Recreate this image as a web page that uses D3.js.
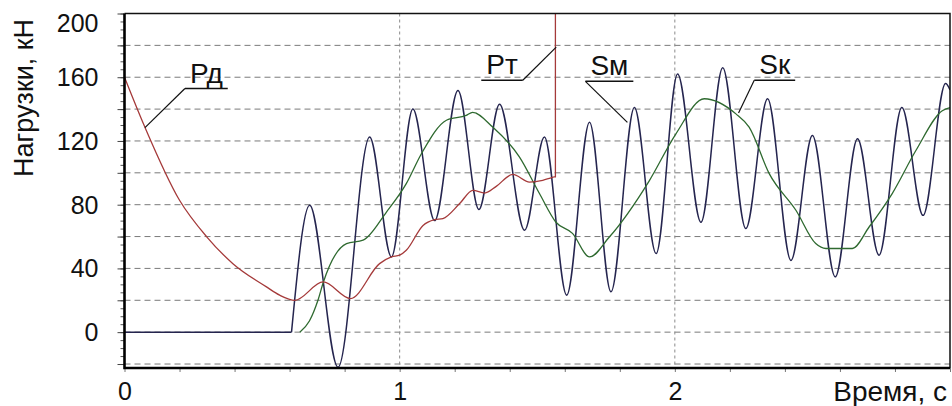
<!DOCTYPE html>
<html>
<head>
<meta charset="utf-8">
<script src="https://cdn.jsdelivr.net/npm/d3@7"></script>
<style>
body { margin: 0; background: #fff; }
svg { display: block; font-family: "Liberation Sans", Arial, sans-serif; }
</style>
</head>
<body>
<svg id="chart"></svg>
<script>
var size = {width: 952, height: 406}
var plot = {left: 124.5, right: 950, top: 13.5, bottom: 368}

// Рд / Рт (red), time in s, load in kN
var pTime = [0, 0.074, 0.2, 0.298, 0.394, 0.516, 0.564, 0.619, 0.722, 0.821, 0.927, 0.97, 1.0, 1.024, 1.085, 1.127, 1.157, 1.218, 1.266, 1.309, 1.351, 1.411, 1.472, 1.52, 1.56]
var pLoad = [160, 128.7, 82.8, 60, 43, 28.4, 23.2, 20, 31.5, 21.1, 43, 47.2, 48.3, 51.4, 67, 70.6, 71.3, 80.7, 89, 87.3, 91.5, 99, 94.2, 95.3, 97.4]
// vertical jump of Рт
var jumpTime = [1.566, 1.566]
var jumpLoad = [97.4, 230]

// Sм (navy)
var smTime = [0, 0.607, 0.673, 0.776, 0.891, 0.97, 1.048, 1.127, 1.212, 1.288, 1.363, 1.454, 1.526, 1.607, 1.69, 1.768, 1.853, 1.932, 2.01, 2.095, 2.174, 2.258, 2.337, 2.422, 2.5, 2.583, 2.664, 2.742, 2.825, 2.902, 2.984, 3.0]
var smLoad = [0, 0, 79.6, -22, 122.5, 47.2, 140, 70, 151.7, 77, 143, 64, 122.5, 23.2, 131.8, 25.3, 141, 49.3, 162, 69, 166, 65, 146.5, 45, 123.5, 34.7, 121.4, 48.3, 141, 73.3, 156, 152]

// Sк (green)
var skTime = [0.637, 0.672, 0.703, 0.722, 0.807, 0.867, 0.952, 1.024, 1.079, 1.17, 1.242, 1.265, 1.338, 1.435, 1.508, 1.568, 1.628, 1.69, 1.762, 1.907, 2.004, 2.107, 2.222, 2.27, 2.343, 2.44, 2.512, 2.549, 2.645, 2.706, 2.79, 2.876, 2.972, 3.0]
var skLoad = [0, 7, 20, 31, 55.6, 57.7, 75.4, 93.2, 112, 133, 136, 138, 128.7, 110, 87, 69, 62, 47.2, 59.7, 95, 124.5, 146.5, 137, 128.7, 99.5, 76.5, 55.6, 52.5, 52.5, 66, 87, 114, 139, 141]

// axes
var xTicks = d3.range(0, 15.5).map(function(i){ return i * 0.2 })
var xTickLabels = [0, 1, 2]
var xGrid = [1, 2]
var yMinor = d3.range(-20, 201, 5)
var yMajor = d3.range(-20, 201, 20)
var yTickLabels = [0, 40, 80, 120, 160, 200]
var yGrid = d3.range(-20, 181, 20)

// callouts
var annotName = ["Рд", "Рт", "Sм", "Sк"]
var annotTime = [0.0744, 1.569, 1.8276, 2.2316]
var annotLoad = [128.4, 178.9, 131.7, 137.6]
var labelTime = [0.2196, 1.2966, 1.675, 2.2886]
var labelLoad = [152.9, 158.1, 157.4, 158.1]
var annotSide = ["left", "right", "left", "left"]

var svg = d3.select("#chart")
    .attr("width", size.width)
    .attr("height", size.height)

var xScale = d3.scaleLinear().domain([0, 3]).range([plot.left, plot.right])
var yScale = d3.scaleLinear().domain([-22.5, 200]).range([plot.bottom, plot.top])

svg.append("clipPath").attr("id", "clip")
    .append("rect")
    .attr("x", plot.left).attr("y", plot.top)
    .attr("width", plot.right - plot.left)
    .attr("height", plot.bottom - plot.top)

// grid
svg.append("g").selectAll("line").data(yGrid).enter().append("line")
    .attr("x1", plot.left).attr("x2", plot.right)
    .attr("y1", function(d){ return yScale(d) })
    .attr("y2", function(d){ return yScale(d) })
    .attr("stroke", "#7a7a7a").attr("stroke-width", 1)
    .attr("stroke-dasharray", "6,4")

svg.append("g").selectAll("line").data(xGrid).enter().append("line")
    .attr("x1", function(d){ return xScale(d) })
    .attr("x2", function(d){ return xScale(d) })
    .attr("y1", plot.top).attr("y2", plot.bottom)
    .attr("stroke", "#8a8a8a").attr("stroke-width", 1)
    .attr("stroke-dasharray", "3,3")

// curves
var zip = function(t, v){ return t.map(function(d, i){ return [d, v[i]] }) }
var lineMono = d3.line()
    .x(function(d){ return xScale(d[0]) })
    .y(function(d){ return yScale(d[1]) })
    .curve(d3.curveMonotoneX)
var lineStraight = d3.line()
    .x(function(d){ return xScale(d[0]) })
    .y(function(d){ return yScale(d[1]) })

var curves = svg.append("g").attr("clip-path", "url(#clip)").attr("fill", "none")

var smPts = zip(smTime, smLoad)
curves.append("path").attr("d", lineStraight(smPts.slice(0, 2)))
    .attr("stroke", "#25254f").attr("stroke-width", 1.5)
curves.append("path").attr("d", lineMono(smPts.slice(1)))
    .attr("stroke", "#25254f").attr("stroke-width", 1.5)

curves.append("path").attr("d", lineMono(zip(skTime, skLoad)))
    .attr("stroke", "#2f6a30").attr("stroke-width", 1.3)

curves.append("path").attr("d", lineMono(zip(pTime, pLoad)))
    .attr("stroke", "#a53a3a").attr("stroke-width", 1.3)
curves.append("path").attr("d", lineStraight([[pTime[pTime.length - 1], pLoad[pLoad.length - 1]]].concat(zip(jumpTime, jumpLoad))))
    .attr("stroke", "#a53a3a").attr("stroke-width", 1.3)

// frame
svg.append("path")
    .attr("d", "M" + plot.left + "," + plot.top + "H" + plot.right + "V" + plot.bottom)
    .attr("fill", "none").attr("stroke", "#111").attr("stroke-width", 1.5)

// y axis
var yAxisMinor = d3.axisLeft(yScale).tickValues(yMinor).tickSize(4).tickFormat("")
var yAxisMajor = d3.axisLeft(yScale).tickValues(yMajor).tickSize(7).tickPadding(19)
    .tickFormat(function(d){ return yTickLabels.indexOf(d) >= 0 ? d : "" })

svg.append("g").attr("transform", "translate(" + plot.left + ",0)").call(yAxisMinor)
    .call(function(g){ g.select(".domain").remove() })
    .selectAll("line").attr("stroke", "#555")
var yg = svg.append("g").attr("transform", "translate(" + plot.left + ",0)").call(yAxisMajor)
yg.select(".domain").remove()
yg.selectAll("line").attr("stroke", "#444")
yg.selectAll("text").attr("font-size", 25).attr("fill", "#111")
    .attr("font-family", "Liberation Sans, Arial, sans-serif")
    .attr("dy", function(d){ return d === 200 ? "0.72em" : "0.34em" })

// x axis
var xAxis = d3.axisBottom(xScale).tickValues(xTicks).tickSize(4).tickPadding(10)
    .tickFormat(function(d){
        var r = Math.round(d)
        return (Math.abs(d - r) < 1e-6 && xTickLabels.indexOf(r) >= 0) ? r : ""
    })
var xg = svg.append("g").attr("transform", "translate(0," + plot.bottom + ")").call(xAxis)
xg.select(".domain").remove()
xg.selectAll("line").attr("stroke", "#777")
xg.selectAll("text").attr("font-size", 25).attr("fill", "#111")
    .attr("font-family", "Liberation Sans, Arial, sans-serif")

// thick axis lines
svg.append("path")
    .attr("d", "M" + plot.left + "," + plot.top + "V" + plot.bottom + "H" + plot.right)
    .attr("fill", "none").attr("stroke", "#000").attr("stroke-width", 2.6)

// axis titles
svg.append("text")
    .attr("transform", "translate(33," + 98 + ") rotate(-90)")
    .attr("text-anchor", "middle")
    .attr("font-size", 27).attr("fill", "#111")
    .text("Нагрузки, кН")
svg.append("text")
    .attr("x", 947).attr("y", 401)
    .attr("text-anchor", "end")
    .attr("font-size", 28).attr("fill", "#111")
    .text("Время, с")

// callouts
var pad = 5
annotName.forEach(function(name, i){
    var g = svg.append("g")
    var lx = xScale(labelTime[i]), ly = yScale(labelLoad[i])
    var txt = g.append("text")
        .attr("x", lx + pad).attr("y", ly - 6)
        .attr("font-size", 28).attr("fill", "#111")
        .text(name)
    var w = txt.node().getComputedTextLength() + 2 * pad
    g.append("line")
        .attr("x1", lx).attr("x2", lx + w)
        .attr("y1", ly).attr("y2", ly)
        .attr("stroke", "#111").attr("stroke-width", 1.5)
    var hx = annotSide[i] === "left" ? lx : lx + w
    g.append("line")
        .attr("x1", hx).attr("y1", ly)
        .attr("x2", xScale(annotTime[i])).attr("y2", yScale(annotLoad[i]))
        .attr("stroke", "#111").attr("stroke-width", 1.2)
})
</script>
</body>
</html>
